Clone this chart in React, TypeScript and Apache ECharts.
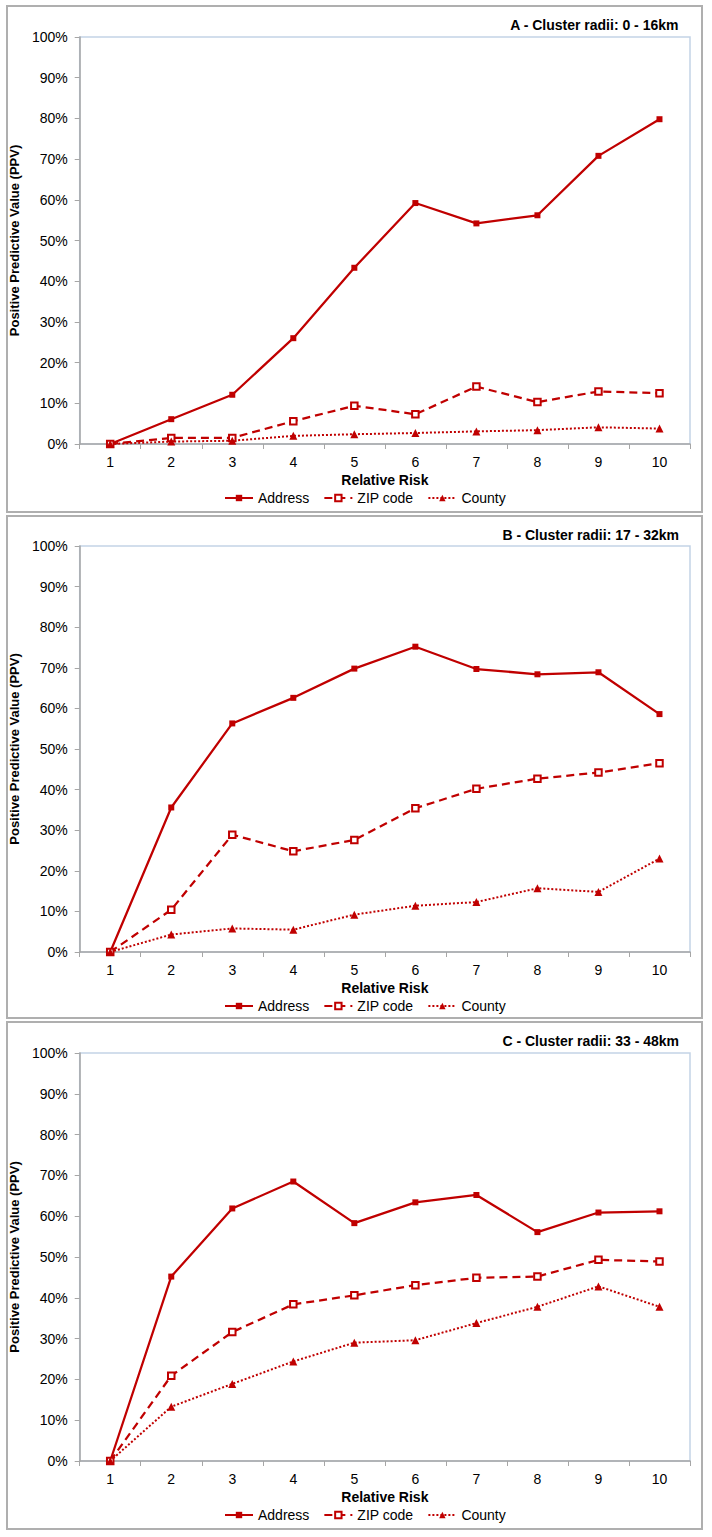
import React, { useEffect, useRef } from "react";
import * as echarts from "echarts";

const categories = ["1", "2", "3", "4", "5", "6", "7", "8", "9", "10"];
const seriesNames = ["Address", "ZIP code", "County"];
const panelTitles = [
  "A - Cluster radii: 0 - 16km",
  "B - Cluster radii: 17 - 32km",
  "C - Cluster radii: 33 - 48km",
];

const addressA = [0, 6.1, 12.1, 26.0, 43.3, 59.2, 54.2, 56.2, 70.8, 79.8];
const zipA = [0, 1.5, 1.5, 5.6, 9.4, 7.3, 14.1, 10.3, 12.9, 12.5];
const countyA = [0, 0.6, 0.8, 2.0, 2.4, 2.7, 3.1, 3.4, 4.1, 3.8];

const addressB = [0, 35.6, 56.3, 62.6, 69.8, 75.2, 69.7, 68.4, 68.9, 58.6];
const zipB = [0, 10.4, 28.9, 24.8, 27.6, 35.4, 40.2, 42.7, 44.2, 46.5];
const countyB = [0, 4.3, 5.8, 5.5, 9.2, 11.4, 12.3, 15.7, 14.8, 23.0];

const addressC = [0, 45.2, 61.9, 68.5, 58.3, 63.4, 65.2, 56.1, 60.9, 61.2];
const zipC = [0, 20.9, 31.6, 38.4, 40.6, 43.1, 44.9, 45.2, 49.3, 48.9];
const countyC = [0, 13.3, 18.9, 24.4, 29.0, 29.6, 33.8, 37.8, 42.8, 37.8];

const panelData = [
  [addressA, zipA, countyA],
  [addressB, zipB, countyB],
  [addressC, zipC, countyC],
];

const FONT = "'Liberation Sans', Arial, sans-serif";
const RED = "#C00000";
const AXIS = "#A6A6A6";

// layout per panel
const layouts = [
  { boxTop: 6, boxH: 506, gridTop: 37, gridH: 407 },
  { boxTop: 516, boxH: 502, gridTop: 546, gridH: 406 },
  { boxTop: 1022, boxH: 507, gridTop: 1053, gridH: 408 },
];

export default function App() {
  const ref = useRef<HTMLDivElement>(null);
  useEffect(() => {
    if (!ref.current) return;
    const chart = echarts.init(ref.current, null, { renderer: "svg" });
    const grids: any[] = [];
    const xAxes: any[] = [];
    const yAxes: any[] = [];
    const series: any[] = [];
    const legends: any[] = [];
    const titles: any[] = [];
    const graphics: any[] = [];

    layouts.forEach((L, i) => {
      graphics.push({
        type: "rect",
        z: -10,
        shape: { x: 7, y: L.boxTop, width: 695, height: L.boxH },
        style: { fill: "#fff", stroke: "#AFAFAF", lineWidth: 2 },
      });
      grids.push({
        left: 73,
        top: L.gridTop,
        width: 617,
        height: L.gridH,
        show: true,
        borderColor: "#C3D3E6",
        borderWidth: 1.5,
        backgroundColor: "transparent",
      });
      xAxes.push({
        type: "category",
        gridIndex: i,
        data: categories,
        boundaryGap: true,
        axisLine: { show: true, lineStyle: { color: AXIS, width: 1.5 } },
        axisTick: { show: true, length: 5, inside: false, lineStyle: { color: AXIS } },
        axisLabel: { color: "#000", fontSize: 14, fontFamily: FONT, margin: 11 },
        splitLine: { show: false },
        name: "Relative Risk",
        nameLocation: "middle",
        nameGap: 29,
        nameTextStyle: { color: "#000", fontSize: 14, fontWeight: "bold", fontFamily: FONT },
      });
      yAxes.push({
        type: "value",
        gridIndex: i,
        min: 0,
        max: 100,
        interval: 10,
        axisLine: { show: true, lineStyle: { color: AXIS, width: 1.5 } },
        axisTick: { show: true, length: 5, lineStyle: { color: AXIS } },
        axisLabel: { color: "#000", fontSize: 14, fontFamily: FONT, margin: 12, formatter: "{value}%" },
        splitLine: { show: false },
        name: "Positive Predictive Value (PPV)",
        nameLocation: "middle",
        nameGap: 46,
        nameTextStyle: { color: "#000", fontSize: 13, fontWeight: "bold", fontFamily: FONT },
      });
      const [addr, zip, cty] = panelData[i];
      series.push({
        name: seriesNames[0],
        type: "line",
        xAxisIndex: i,
        yAxisIndex: i,
        data: addr,
        symbol: "rect",
        symbolSize: 6,
        lineStyle: { color: RED, width: 2.25, type: "solid" },
        itemStyle: { color: RED },
      });
      series.push({
        name: seriesNames[1],
        type: "line",
        xAxisIndex: i,
        yAxisIndex: i,
        data: zip,
        symbol: "emptyRect",
        symbolSize: 6.5,
        lineStyle: { color: RED, width: 2.25, type: [8, 5] },
        itemStyle: { color: RED, borderWidth: 1.2 },
      });
      series.push({
        name: seriesNames[2],
        type: "line",
        xAxisIndex: i,
        yAxisIndex: i,
        data: cty,
        symbol: "triangle",
        symbolSize: 8,
        lineStyle: { color: RED, width: 2, type: [2, 2] },
        itemStyle: { color: RED },
      });
      legends.push({
        data: seriesNames,
        left: 219,
        top: L.gridTop + L.gridH + 42,
        itemWidth: 28,
        itemHeight: 8,
        itemGap: 14,
        selectedMode: false,
        textStyle: { color: "#000", fontSize: 14, fontFamily: FONT },
      });
      titles.push({
        text: panelTitles[i],
        right: 28,
        top: L.boxTop + 7,
        textStyle: { color: "#000", fontSize: 14, fontWeight: "bold", fontFamily: FONT },
      });
    });

    chart.setOption({
      animation: false,
      backgroundColor: "#fff",
      title: titles,
      grid: grids,
      xAxis: xAxes,
      yAxis: yAxes,
      legend: legends,
      series,
      graphic: graphics,
    });
    return () => chart.dispose();
  }, []);
  return (
    <div
      ref={ref}
      style={{ position: "absolute", left: 0, top: 0, width: 712, height: 1537 }}
    />
  );
}
